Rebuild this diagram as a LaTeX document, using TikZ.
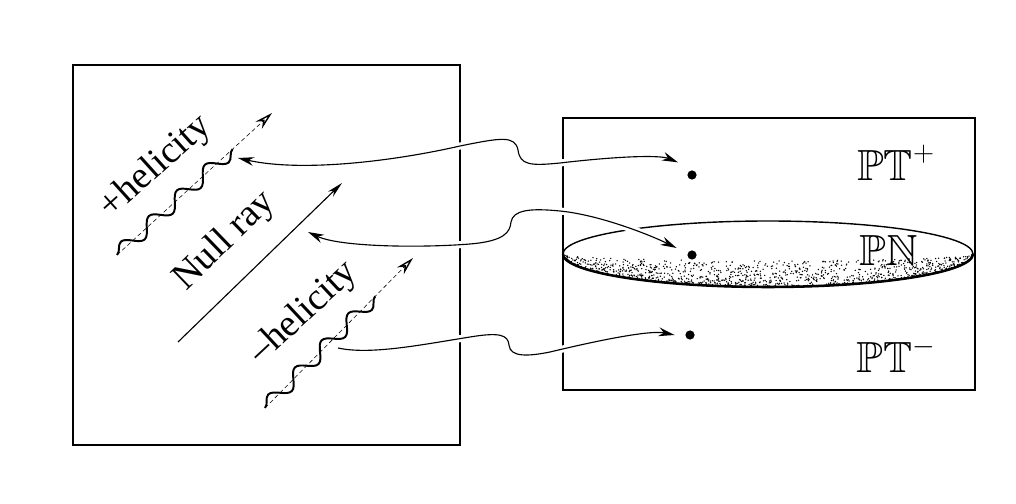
\documentclass[tikz,border=0pt]{standalone}
\usepackage{fontspec}
\setmainfont{Liberation Serif}
\usepackage{amssymb}
\usepackage{tikz}
\usetikzlibrary{arrows.meta,decorations.pathmorphing}

\begin{document}
\begin{tikzpicture}[x=0.025cm, y=-0.025cm, >={Stealth[length=4mm, width=2.2mm]},
  frame/.style={line width=2pt},
  spot/.style={circle, fill, inner sep=0pt, minimum size=2.3mm},
  link/.style={line width=0.8pt, preaction={draw=white, line width=5pt, -}},
  ray/.style={line width=0.8pt, -{Stealth[length=4mm, width=1.8mm]}},
  guide/.style={densely dashed, line width=0.4pt, -{Stealth[length=4.5mm, width=2.4mm, open, line width=1pt, sep=0pt]}},
  wave/.style={line width=1.4pt, decorate, decoration={snake, amplitude=1.8mm, segment length=9.5mm, post=moveto, post length=9mm}},
  words/.style={font=\fontsize{27}{30}\selectfont},
  sheaf/.style={font=\fontsize{31}{34}\selectfont}]
  \useasboundingbox (0,0) rectangle (1016,504);

  \draw[frame] (73,65) rectangle (460,445);
  \draw[frame] (563,118) rectangle (975,390);

  % stippled null hypersurface
  \begin{scope}
    \clip (768,254) ellipse (205 and 33);
    \pgfmathsetseed{4}
    \foreach \k in {1,...,1300}{
      \pgfmathsetmacro{\u}{2*rnd-1}
      \pgfmathsetmacro{\h}{33*sqrt(1-\u*\u)*(1-0.8*rnd^2)}
      \fill (768+205*\u, 254+\h) circle (0.75);
    }
  \end{scope}
  \draw[line width=1pt] (768,254) ellipse (205 and 33);
  \draw[line width=1.8pt] (563,254) arc[start angle=180, end angle=0, x radius=205, y radius=33];

  \node[spot] (dp) at (692,175) {};
  \node[spot] (dn) at (692,255) {};
  \node[spot] (dm) at (690,335) {};

  \coordinate (ap) at (238,158);
  \coordinate (an) at (308,232);
  \coordinate (am) at (338,348);

  \draw[link, <->] (ap) .. controls (300,172) and (390,162) .. (460,146)
    .. controls (500,138) and (515,135) .. (518,150)
    .. controls (520,165) and (530,166) .. (560,163)
    .. controls (620,156) and (660,155) .. ([xshift=-10,yshift=9]dp.center);
  \draw[link, <->] (an) .. controls (340,247) and (420,248) .. (470,244)
    .. controls (505,241) and (510,232) .. (511,222)
    .. controls (513,210) and (530,208) .. (560,211)
    .. controls (600,215) and (650,235) .. ([xshift=-11,yshift=5]dn.center);
  \draw[link, ->] (am) .. controls (370,355) and (420,345) .. (470,337)
    .. controls (500,332) and (508,335) .. (509,345)
    .. controls (510,358) and (530,356) .. (550,352)
    .. controls (600,340) and (650,330) .. ([xshift=-11]dm.center);

  \coordinate (r0) at (178,342);
  \coordinate (r1) at (342,183);
  \draw[ray] (r0) -- (r1);

  \coordinate (p0) at (117,255);
  \coordinate (p1) at (272,113);
  \draw[guide] (p0) -- (p1);
  \draw[wave] (p0) -- (p1);

  \coordinate (m0) at (265,408);
  \coordinate (m1) at (413,258);
  \draw[guide] (m0) -- (m1);
  \draw[wave] (m0) -- (m1);

  \node[words, rotate=42] (plus) at (156,167) {+helicity};
  \node[words, rotate=44] (null) at (225,241) {Null ray};
  \node[words, rotate=43] (minus) at (304,313) {–helicity};

  \node[sheaf] (ptp) at (896,163) {$\mathbb{PT}^{+}$};
  \node[sheaf] (pn) at (889,250) {$\mathbb{PN}$};
  \node[sheaf] (ptm) at (896,355) {$\mathbb{PT}^{-}$};
\end{tikzpicture}
\end{document}
